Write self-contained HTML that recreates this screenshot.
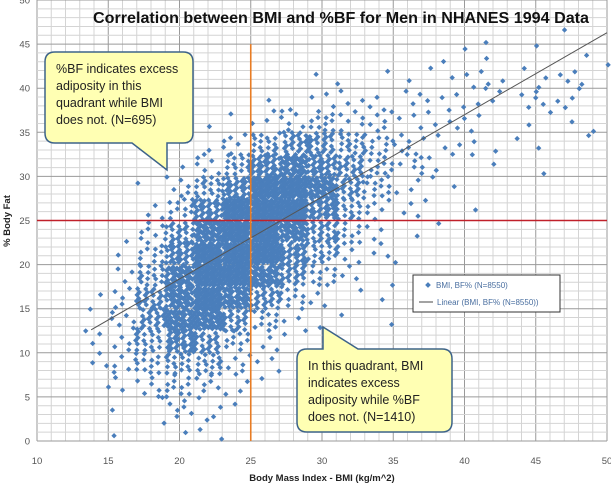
<!DOCTYPE html>
<html><head><meta charset="utf-8"><style>
html,body{margin:0;padding:0;background:#fff;width:611px;height:484px;overflow:hidden}
svg{display:block;font-family:"Liberation Sans",sans-serif}
</style></head><body>
<svg id="chart" width="611" height="484" viewBox="0 0 611 484" xmlns="http://www.w3.org/2000/svg">
<g id="grid"></g>
<g id="ticks"></g>
<g id="points"></g>
<g id="lines"></g>
<text x="341" y="23" text-anchor="middle" font-size="16" font-weight="bold" fill="#111" textLength="496" lengthAdjust="spacingAndGlyphs">Correlation between BMI and %BF for Men in NHANES 1994 Data</text>
<text x="322" y="481" text-anchor="middle" font-size="9.5" font-weight="bold" fill="#222">Body Mass Index - BMI (kg/m^2)</text>
<text transform="translate(10,221) rotate(-90)" text-anchor="middle" font-size="9.5" font-weight="bold" fill="#222">% Body Fat</text>
<g>
<path d="M55,52 H183 Q193,52 193,62 V133 Q193,143 183,143 H167 V170 L132,143 H55 Q45,143 45,133 V62 Q45,52 55,52 Z" fill="#ffffb3" stroke="#3d6389" stroke-width="1.5"/>
<text font-size="12.5" fill="#222"><tspan x="56" y="73">%BF indicates excess</tspan><tspan x="56" y="90">adiposity in this</tspan><tspan x="56" y="107">quadrant while BMI</tspan><tspan x="56" y="124">does not. (N=695)</tspan></text>
</g>
<g>
<path d="M307,349 H323 V327 L358,349 H442 Q452,349 452,359 V422 Q452,432 442,432 H307 Q297,432 297,422 V359 Q297,349 307,349 Z" fill="#ffffb3" stroke="#3d6389" stroke-width="1.5"/>
<text font-size="12.5" fill="#222"><tspan x="308" y="370">In this quadrant, BMI</tspan><tspan x="308" y="387">indicates excess</tspan><tspan x="308" y="404">adiposity while %BF</tspan><tspan x="308" y="421">does not. (N=1410)</tspan></text>
</g>
<g>
<rect x="413" y="275" width="147" height="37" fill="#fff" stroke="#333" stroke-width="1"/>
<rect x="426" y="283" width="4" height="4" fill="#4a7ebb" transform="rotate(45 428 285)"/>
<text x="436" y="288" font-size="8" fill="#4a6fa0">BMI, BF% (N=8550)</text>
<line x1="419" y1="302" x2="433" y2="302" stroke="#666" stroke-width="1.2"/>
<text x="437" y="305" font-size="8" fill="#4a6fa0">Linear (BMI, BF% (N=8550))</text>
</g>
</svg>
<script>
// axis domain data
const xTicks = [10,15,20,25,30,35,40,45,50];
const yTicks = [0,5,10,15,20,25,30,35,40,45,50];
// density grid: BMI bin starts (2 units wide) and %BF bin starts (2.5 units tall)
const bmiBins = [13,15,17,19,21,23,25,27,29,31,33,35,37,39,41,43,45,47,49];
const bfBins = [45,42.5,40,37.5,35,32.5,30,27.5,25,22.5,20,17.5,15,12.5,10,7.5,5,2.5,0];
const densityLevels = [
[0,0,0,0,0,0,0,0,0,0,0,0,0,0,1,0,0,1,0],
[0,0,0,0,0,0,0,0,0,0,0,0,1,1,1,0,1,1,1],
[0,0,0,0,0,0,0,0,1,1,1,1,1,2,2,1,2,2,1],
[0,0,0,0,0,0,1,1,2,2,2,2,2,2,2,2,2,2,1],
[0,0,0,0,1,1,2,3,4,3,3,2,2,2,1,1,1,1,1],
[0,0,0,1,1,3,5,6,6,5,4,3,2,2,1,1,1,1,0],
[0,0,0,1,3,5,7,8,7,6,4,3,2,1,1,0,1,0,0],
[0,0,1,3,5,7,9,9,8,6,4,2,1,1,0,0,0,0,0],
[0,0,2,4,7,9,9,9,7,5,3,2,1,1,0,0,0,0,0],
[0,1,3,6,8,9,9,8,6,4,2,1,1,0,0,0,0,0,0],
[0,1,4,7,9,9,9,7,5,3,2,1,0,0,0,0,0,0,0],
[0,2,5,8,9,9,8,6,4,2,1,0,0,0,0,0,0,0,0],
[1,3,6,8,9,8,6,4,2,1,1,0,0,0,0,0,0,0,0],
[1,3,6,8,8,6,4,2,1,1,1,0,0,0,0,0,0,0,0],
[2,3,5,7,6,4,2,1,0,0,0,0,0,0,0,0,0,0,0],
[2,3,4,5,5,3,2,0,0,0,0,0,0,0,0,0,0,0,0],
[0,2,3,4,3,2,1,0,0,0,0,0,0,0,0,0,0,0,0],
[0,1,1,3,2,1,0,0,0,0,0,0,0,0,0,0,0,0,0],
[0,1,1,1,2,0,0,1,0,0,0,0,0,0,0,0,0,0,0]];
const levelCounts = [0,1,3,6,11,17,25,35,48,65];
// trend line endpoints (BMI, %BF) and reference thresholds
const trendBmi = [13.8, 50];
const trendBf = [12.6, 46.3];
const bmiThreshold = 25;
const bfThreshold = 25;

const X0=37, X1=607, Y0=441;
function sx(v){return X0+(v-10)*(X1-X0)/40;}
function sy(v){return Y0-v*(Y0-0)/50;}
const NS='http://www.w3.org/2000/svg';
function mk(tag,attrs,parent){const e=document.createElementNS(NS,tag);for(const k in attrs)e.setAttribute(k,attrs[k]);parent.appendChild(e);return e;}

const grid=document.getElementById('grid');
for(let v=10;v<=50;v++){
  const major=v%5===0;
  const l=mk('line',{x1:sx(v),x2:sx(v),y1:0,y2:Y0,stroke:major?'#9a9a9a':'#d4d4d4','stroke-width':1},grid);
  
  
}
for(let v=0;v<=50;v++){
  const major=v%5===0;
  const l=mk('line',{x1:X0,x2:X1,y1:sy(v),y2:sy(v),stroke:major?'#9a9a9a':'#d4d4d4','stroke-width':1},grid);
  
  
}
const ticks=document.getElementById('ticks');
xTicks.forEach(t=>{
  const e=mk('text',{x:sx(t),y:464,'text-anchor':'middle','font-size':9.5,fill:'#555'},ticks);
  e.textContent=t;
  
  
});
yTicks.forEach(t=>{
  const e=mk('text',{x:30,y:sy(t)+3.5,'text-anchor':'end','font-size':9.5,fill:'#555'},ticks);
  e.textContent=t;
  
  
});

const pts=document.getElementById('points');
let seed=0;
bfBins.forEach((bf,r)=>{
  bmiBins.forEach((bmi,c)=>{
    const n=levelCounts[densityLevels[r][c]];
    for(let i=0;i<n;i++){
      seed++;
      const u=(0.5+seed*0.7548776662)%1;
      const v=(0.5+seed*0.5698402910)%1;
      const px=sx(bmi+2*u), py=sy(bf+2.5*v);
      const p=mk('rect',{x:px-1.9,y:py-1.9,width:3.8,height:3.8,fill:'#4a7ebb',transform:`rotate(45 ${px} ${py})`},pts);
      
      
    }
  });
});

const lines=document.getElementById('lines');
const tl=mk('line',{x1:sx(trendBmi[0]),y1:sy(trendBf[0]),x2:sx(trendBmi[1]),y2:sy(trendBf[1]),stroke:'#555','stroke-width':1},lines);


const hl=mk('line',{x1:X0,x2:X1,y1:sy(bfThreshold),y2:sy(bfThreshold),stroke:'#c0202a','stroke-width':1.6},lines);


const vl=mk('line',{x1:sx(bmiThreshold),x2:sx(bmiThreshold),y1:sy(45),y2:Y0,stroke:'#e87c24','stroke-width':1.6},lines);


</script>
</body></html>
